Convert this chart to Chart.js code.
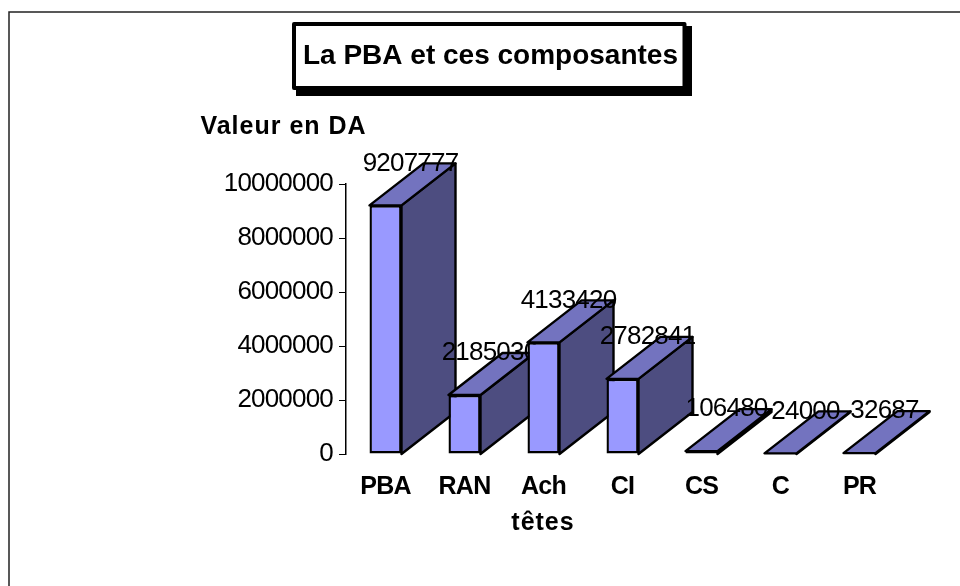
<!DOCTYPE html>
<html><head><meta charset="utf-8">
<style>html,body{margin:0;padding:0;background:#fff}#w{width:960px;height:586px}</style>
<script src="https://cdn.jsdelivr.net/npm/chart.js@4"></script></head>
<body><div id="w"><canvas id="c" width="960" height="586"></canvas></div>
<script>
const categories = ['PBA','RAN','Ach','CI','CS','C','PR'];
const values = [9207777,2185030,4133420,2782841,106480,24000,32687];
const titleText = 'La PBA et ces composantes';
const yTitle = 'Valeur en DA';
const xTitle = 'têtes';
const yMax = 10000000, yStep = 2000000;
const F = '"Liberation Sans", Arial, sans-serif';
const DX = 54, DY = 42;
const faces = {front:'#9999FF', top:'#7373BF', side:'#4D4D80'};

function quad(ctx, pts, fill){
  ctx.beginPath();
  pts.forEach((p,i)=> i?ctx.lineTo(p[0],p[1]):ctx.moveTo(p[0],p[1]));
  ctx.closePath();
  ctx.fillStyle = fill; ctx.fill();
  ctx.lineWidth = 2.4; ctx.strokeStyle = '#000'; ctx.lineJoin='round'; ctx.stroke();
}
const scene = {
  id:'scene',
  beforeDraw(chart){
    const ctx = chart.ctx; ctx.save();
    ctx.strokeStyle='#222'; ctx.lineWidth=1.5;
    ctx.beginPath(); ctx.moveTo(9,586); ctx.lineTo(9,12); ctx.lineTo(960,12); ctx.stroke();
    ctx.restore();
    ctx.letterSpacing='-0.8px';
  },
  beforeDatasetDraw(chart){
    const ctx = chart.ctx, meta = chart.getDatasetMeta(0), ys = chart.scales.y;
    const base = ys.getPixelForValue(0);
    ctx.save();
    meta.data.forEach((el,i)=>{
      const p = el.getProps(['x','y','width']);
      const x0=p.x-p.width/2, x1=p.x+p.width/2, y=p.y;
      quad(ctx,[[x1,y],[x1,base],[x1+DX,base-DY],[x1+DX,y-DY]],faces.side);
      quad(ctx,[[x0,y],[x1,y],[x1+DX,y-DY],[x0+DX,y-DY]],faces.top);
      el.draw(ctx);
      ctx.fillStyle='#000'; ctx.font='26px '+F; ctx.textAlign='center'; ctx.textBaseline='middle';
      ctx.fillText(String(values[i]), p.x+25, y-DY);
    });
    ctx.restore();
    return false;
  },
  afterDraw(chart){
    const ctx = chart.ctx; ctx.save();
    ctx.letterSpacing='0px';
    ctx.fillStyle='#000'; ctx.fillRect(296,26,396,70);
    ctx.fillStyle='#fff'; ctx.fillRect(294,24,390.5,64);
    ctx.strokeStyle='#000'; ctx.lineWidth=4; ctx.lineJoin='round'; ctx.strokeRect(294,24,390.5,64);
    ctx.fillStyle='#000'; ctx.textAlign='center'; ctx.textBaseline='middle';
    ctx.font='bold 28px '+F; ctx.fillText(titleText,490.5,56);
    ctx.font='bold 25px '+F; ctx.letterSpacing='1px';
    ctx.fillText(yTitle,283.5,127);
    ctx.fillText(xTitle,543,523);
    ctx.restore();
    ctx.letterSpacing='0px';
  }
};
new Chart(document.getElementById('c'),{
  type:'bar',
  data:{labels:categories,datasets:[{data:values,backgroundColor:faces.front,borderColor:'#000',borderWidth:2.4,borderSkipped:false,barPercentage:0.405,categoryPercentage:1}]},
  plugins:[scene],
  options:{
    responsive:false,animation:false,
    layout:{padding:{left:206,top:184,right:61,bottom:32}},
    plugins:{legend:{display:false},tooltip:{enabled:false},title:{display:false}},
    scales:{
      x:{grid:{display:false},border:{display:false},
         ticks:{color:'#000',font:{family:F,size:25,weight:'bold'},padding:10,autoSkip:false,maxRotation:0},
         afterFit(s){s.height=100}},
      y:{min:0,max:yMax,
         grid:{drawOnChartArea:false,drawTicks:true,tickLength:7,color:'#000',lineWidth:1},
         border:{display:true,color:'#000',width:1.5},
         ticks:{stepSize:yStep,color:'#000',font:{family:F,size:26},padding:6,callback:v=>String(v)},
         afterFit(s){s.width=140}}
    }
  }
});
</script></body></html>
